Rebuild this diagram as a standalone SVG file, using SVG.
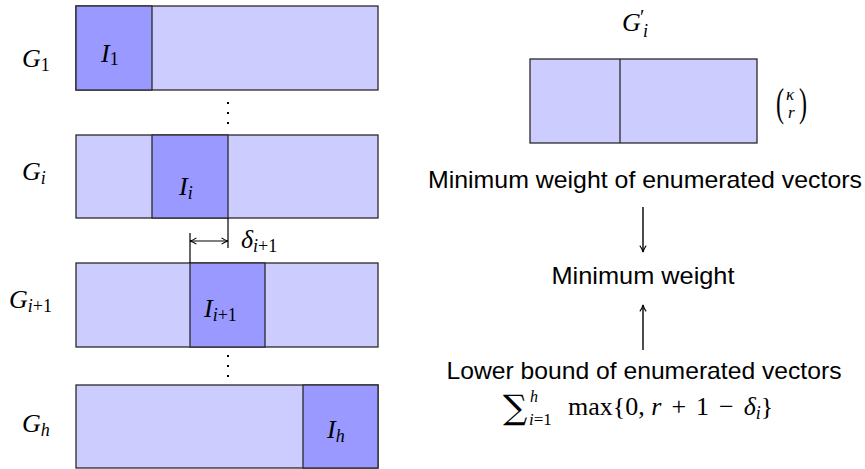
<svg xmlns="http://www.w3.org/2000/svg" width="865" height="469" viewBox="0 0 865 469">
<defs>
<style>
.lt{fill:#ccccff;stroke:#2a2a2a;stroke-width:1.3}
.dk{fill:#9999ff;stroke:#2a2a2a;stroke-width:1.3}
.m{font-family:"Liberation Serif",serif;font-style:italic;font-size:26px;fill:#000}
.s{font-size:18px}
.r{font-style:normal}
.t{font-family:"Liberation Sans",sans-serif;font-size:24px;fill:#000;text-anchor:middle}
.ln{stroke:#000;stroke-width:1.4;fill:none}
.dot{fill:#000}
</style>
<marker id="ah" viewBox="0 0 10 10" refX="9" refY="5" markerWidth="8" markerHeight="8" orient="auto-start-reverse" markerUnits="userSpaceOnUse">
<path d="M1,1 Q5,4 9,5 Q5,6 1,9" fill="none" stroke="#000" stroke-width="1.3"/>
</marker>
</defs>
<rect width="865" height="469" fill="#fff"/>

<g id="G1">
<rect class="lt" x="76" y="6" width="302" height="84"/>
<rect class="dk" x="76" y="6" width="76" height="84"/>
<text class="m" x="22" y="67">G<tspan class="s r" dy="4">1</tspan></text>
<text class="m" x="101" y="62">I<tspan class="s r" dy="3">1</tspan></text>
</g>

<g id="Gi">
<rect class="lt" x="76" y="135" width="302" height="83"/>
<rect class="dk" x="152" y="135" width="76" height="83"/>
<text class="m" x="22" y="180">G<tspan class="s" dy="4">i</tspan></text>
<text class="m" x="179" y="195">I<tspan class="s" dy="4">i</tspan></text>
</g>

<g id="Gi1">
<rect class="lt" x="76" y="263" width="302" height="84"/>
<rect class="dk" x="190" y="263" width="75" height="84"/>
<text class="m" x="9" y="308">G<tspan class="s" dy="4">i</tspan><tspan class="s r">+1</tspan></text>
<text class="m" x="204" y="317">I<tspan class="s" dy="4">i</tspan><tspan class="s r">+1</tspan></text>
</g>

<g id="Gh">
<rect class="lt" x="76" y="385" width="302" height="83"/>
<rect class="dk" x="303" y="385" width="75" height="83"/>
<text class="m" x="22" y="432">G<tspan class="s" dy="4">h</tspan></text>
<text class="m" x="327" y="438">I<tspan class="s" dy="4">h</tspan></text>
</g>

<g id="dots">
<rect class="dot" x="227" y="102" width="2" height="2"/>
<rect class="dot" x="227" y="112" width="2" height="2"/>
<rect class="dot" x="227" y="122" width="2" height="2"/>
<rect class="dot" x="227" y="355" width="2" height="2"/>
<rect class="dot" x="227" y="365" width="2" height="2"/>
<rect class="dot" x="227" y="375" width="2" height="2"/>
</g>

<g id="delta">
<line class="ln" x1="228" y1="218" x2="228" y2="248" style="stroke-width:1.2"/>
<line class="ln" x1="190" y1="233" x2="190" y2="263" style="stroke-width:1.2"/>
<line class="ln" x1="190" y1="241" x2="228" y2="241" style="stroke-width:1.2" marker-start="url(#ah)" marker-end="url(#ah)"/>
<text class="m" x="241" y="248">δ<tspan class="s" dy="4">i</tspan><tspan class="s r">+1</tspan></text>
</g>

<g id="Gprime">
<text class="m" x="622" y="31">G</text>
<text class="m" x="640" y="24" style="font-size:20px;font-style:normal">′</text>
<text class="m s" x="643" y="37">i</text>
<rect class="lt" x="530" y="59" width="227" height="84"/>
<line x1="620" y1="59" x2="620" y2="143" stroke="#2a2a2a" stroke-width="1.3"/>
<text x="776" y="116" style="font-family:'Liberation Serif',serif;font-size:40px" transform="translate(776 104) scale(0.6 1) translate(-776 -104)">(</text>
<text class="m" x="786" y="100" style="font-size:17px">κ</text>
<text class="m" x="788" y="118" style="font-size:17px">r</text>
<text x="799" y="116" style="font-family:'Liberation Serif',serif;font-size:40px" transform="translate(799 104) scale(0.6 1) translate(-799 -104)">)</text>
</g>

<g id="enum">
<text class="t" x="645" y="188" textLength="434" lengthAdjust="spacingAndGlyphs">Minimum weight of enumerated vectors</text>
</g>
<g id="minw">
<text class="t" x="643" y="284" textLength="183" lengthAdjust="spacingAndGlyphs">Minimum weight</text>
</g>
<g id="lower">
<text class="t" x="644" y="379" textLength="395" lengthAdjust="spacingAndGlyphs">Lower bound of enumerated vectors</text>
<text x="503" y="419" style="font-family:'DejaVu Serif',serif;font-size:34px">∑</text>
<text class="m" x="530" y="402" style="font-size:16px">h</text>
<text class="m" x="529" y="425" style="font-size:17px">i<tspan class="r">=1</tspan></text>
<text x="568" y="415" style="font-family:'Liberation Serif',serif;font-size:26px">max{0, <tspan font-style="italic">r</tspan><tspan dx="10">+</tspan><tspan dx="10">1</tspan><tspan dx="10">−</tspan><tspan dx="10" font-style="italic">δ</tspan><tspan font-style="italic" font-size="18" dy="4">i</tspan><tspan dy="-4">}</tspan></text>
</g>

<g id="connectors">
<line class="ln" x1="643" y1="207" x2="643" y2="252" marker-end="url(#ah)"/>
<line class="ln" x1="643" y1="350" x2="643" y2="305" marker-end="url(#ah)"/>
</g>
</svg>
